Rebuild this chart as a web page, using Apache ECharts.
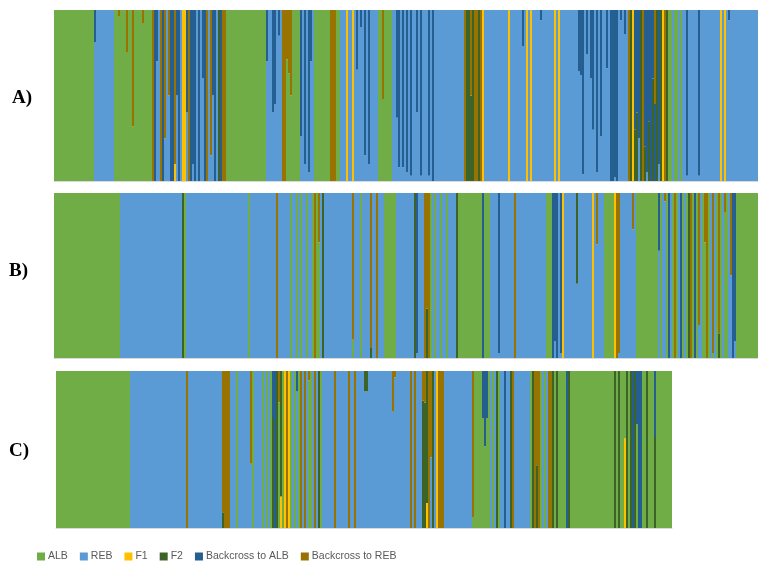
<!DOCTYPE html>
<html>
<head>
<meta charset="utf-8">
<script src="https://cdn.jsdelivr.net/npm/echarts@6/dist/echarts.min.js"></script>
<style>
  html, body { margin: 0; padding: 0; background: #ffffff; }
  #chart { width: 758px; height: 569px; }
</style>
</head>
<body>
<div id="chart"></div>
<script>
// Ancestry classes, in legend order
const classKeys   = ['A', 'R', 'F1', 'F2', 'BA', 'BR'];
const classNames  = ['ALB', 'REB', 'F1', 'F2', 'Backcross to ALB', 'Backcross to REB'];
const classColors = ['#70AD47', '#5B9BD5', '#FFC000', '#3D6428', '#255E91', '#997300'];

// Stacking order of the segments inside one bar (bottom first)
const stackOrder = ['F1', 'A', 'R', 'F2', 'BA', 'BR'];

const panelLabels = ['A)', 'B)', 'C)'];

// Individuals per panel as runs: [count, main class, second class, share of second class]
const panelA = [
  [20,'A'],[1,'R','BA',0.19],[9,'R'],
  [2,'A'],[1,'A','BR',0.04],[3,'A'],[1,'A','BR',0.25],[2,'A'],[1,'A','BR',0.68],[4,'A'],[1,'A','BR',0.08],[4,'A'],
  [1,'BR'],[1,'BA'],[1,'R','BA',0.3],[1,'R'],[1,'BR'],[1,'BA'],[1,'R','BR',0.75],[1,'R'],[1,'R','BR',0.5],[2,'BA'],
  [1,'F1','BR',0.9],[1,'R','BA',0.5],[1,'BA'],[1,'R'],[2,'F1'],[1,'R','BA',0.6],[1,'BR'],[1,'BA'],[1,'R','BA',0.9],
  [1,'BA'],[1,'R'],[1,'BA'],[1,'R'],[1,'R','BA',0.4],[1,'BA'],[1,'BR'],[1,'R'],[1,'R','BR',0.85],[1,'R','BA',0.5],
  [1,'BA'],[1,'R'],[1,'F2'],[1,'BA'],[2,'BR'],
  [20,'A'],
  [1,'R','BA',0.3],[2,'R'],[1,'R','BA',0.6],[1,'R','BA',0.55],[1,'R'],[1,'R','BA',0.15],[1,'R'],
  [2,'BR'],
  [1,'A','BR',0.29],[1,'A','BR',0.37],[1,'A','BR',0.5],[4,'A'],
  [1,'R','BA',0.74],[1,'R'],[1,'R','BA',0.9],[1,'R'],[1,'R','BA',0.95],[1,'R','BA',0.3],[1,'R'],
  [8,'A'],[3,'BR'],[2,'A'],[3,'R'],[1,'F1'],[2,'R'],[1,'F1'],
  [1,'R'],[1,'R','BA',0.35],[1,'R'],[1,'R','BA',0.1],[1,'R'],[1,'R','BA',0.85],[1,'R'],[1,'R','BA',0.9],[4,'R'],
  [2,'A'],[1,'A','BR',0.52],[4,'A'],
  [2,'R'],[1,'R','BA',0.63],[1,'R','BA',0.92],[1,'R'],[1,'R','BA',0.92],[1,'R'],[1,'R','BA',0.95],[1,'R'],
  [1,'R','BA',0.97],[2,'R'],[1,'R','BA',0.6],[1,'R'],[1,'R','BA',0.97],[3,'R'],[1,'R','BA',0.97],[1,'R'],[1,'BA'],[15,'R'],
  [1,'BR'],[2,'F2'],[1,'F2','BR',0.5],[1,'F2'],[2,'BR'],[1,'F2'],[1,'BR'],[1,'F1'],
  [12,'R'],[1,'F1'],[6,'R'],[1,'R','BA',0.21],[1,'R'],[1,'F1'],[1,'R'],[1,'F1'],[4,'R'],[1,'R','BA',0.06],[6,'R'],
  [1,'F1'],[1,'R'],[1,'F1'],[9,'R'],
  [1,'R','BA',0.36],[1,'R','BA',0.38],[1,'R','BA',0.96],[1,'R'],[1,'R','BA',0.26],[1,'R'],[1,'R','BA',0.4],
  [1,'R','BA',0.7],[1,'R'],[1,'R','BA',0.95],[1,'R'],[1,'R','BA',0.74],[2,'R'],[1,'R','BA',0.34],[1,'R'],[2,'BA'],
  [1,'R','BA',0.98],[1,'BA'],[1,'R'],[1,'R','BA',0.06],[1,'R'],[1,'R','BA',0.14],[1,'R'],
  [1,'BR'],[1,'F2'],[1,'F1'],[1,'F2','BA',0.7],[1,'F2','BA',0.6],[1,'R','BA',0.75],[1,'F2'],[1,'BR'],[1,'F2','BA',0.8],
  [1,'R','BA',0.95],[1,'F2','BA',0.65],[1,'BA'],[1,'F2','BA',0.4],[1,'BR','BA',0.45],[1,'F2'],[1,'R','BA',0.9],
  [1,'F2'],[1,'F1'],[1,'BR'],[1,'F2'],
  [2,'A'],[1,'R'],[2,'A'],[1,'R'],[1,'A'],[1,'R'],
  [1,'R'],[1,'R','BA',0.97],[5,'R'],[1,'R','BA',0.97],[10,'R'],[1,'F1'],[1,'R'],[1,'F1'],[1,'R'],[1,'R','BA',0.06],[14,'R']
];

const panelB = [
  [33,'A'],[31,'R'],[1,'F2'],[1,'A'],[31,'R'],[1,'A'],[13,'R'],[1,'BR'],[6,'R'],[1,'A'],[2,'R'],[1,'A'],[1,'R'],
  [1,'A'],[2,'R'],[1,'A'],[2,'R'],[1,'A'],[1,'BR'],[1,'A'],[1,'A','BR',0.3],[1,'R'],[1,'F2'],[14,'R'],
  [1,'A','BR',0.89],[3,'R'],[1,'A'],[4,'R'],[1,'F2','BR',0.94],[2,'R'],[1,'BR'],
  [3,'R'],[6,'A'],[9,'R'],[1,'F2'],[1,'R','BA',0.97],[3,'R'],[1,'BR'],[1,'BR','F2',0.3],[1,'BR'],[1,'A'],[1,'R'],
  [1,'A'],[2,'R'],[1,'A'],[2,'R'],[1,'A'],[4,'R'],[1,'F2'],[12,'A'],[1,'BA'],[3,'A'],[4,'R'],[1,'R','BA',0.97],
  [7,'R'],[1,'BR'],[15,'R'],[3,'A'],[1,'BA'],[1,'R','BA',0.9],[1,'BA'],[1,'R'],[1,'R','BA',0.97],[1,'F1'],[6,'R'],
  [1,'R','F2',0.55],[7,'R'],[1,'F1'],[1,'R'],[1,'R','BR',0.31],[3,'R'],[5,'A'],[1,'F1'],[1,'BR'],[1,'R','BR',0.97],
  [6,'R'],[1,'R','BR',0.22],[1,'R'],[11,'A'],[1,'R','BA',0.35],[1,'A'],[1,'R'],[1,'R','BR',0.05],
  [1,'A'],[1,'BA'],[1,'R'],[1,'A'],[1,'BR'],[1,'A'],[1,'R'],[1,'BA'],[1,'A'],[1,'R'],[1,'A'],[1,'F2'],
  [1,'BR'],[1,'A'],[1,'BA'],[1,'A'],[1,'R','BR',0.8],[1,'R'],[1,'A'],[1,'A','BR',0.3],[1,'BR'],[1,'A'],[1,'R'],
  [1,'A','BR',0.97],[1,'R'],[1,'A'],[1,'F2','BR',0.85],[1,'A'],[1,'R'],[1,'A','BR',0.12],[1,'A'],[1,'R'],
  [1,'R','BR',0.5],[1,'BA'],[1,'R','BA',0.9],[11,'A']
];

const panelC = [
  [37,'A'],[28,'R'],[1,'BR'],[17,'R'],[1,'F2','BR',0.9],[3,'BR'],[3,'R'],[1,'A'],[6,'R'],[1,'R','BR',0.59],
  [1,'A'],[4,'R'],[1,'A'],[1,'R'],[1,'A'],[1,'R'],[1,'A'],[1,'F2','BA',0.3],[1,'BA'],[1,'F2'],[1,'A','BR',0.2],
  [1,'F1','F2',0.8],[1,'A'],[1,'F1'],[1,'BR'],[1,'F1'],[1,'A'],[1,'R'],[1,'A'],[1,'R','BA',0.13],[1,'A'],[1,'BR'],
  [1,'R'],[1,'BR'],[1,'R'],[1,'A','BR',0.06],[1,'A'],[1,'R'],[1,'BR'],[1,'R'],[1,'F2'],[1,'A'],[6,'R'],[1,'BR'],
  [6,'R'],[1,'BR'],[2,'R'],[1,'BR'],[4,'R'],[1,'R','F2',0.13],[1,'R','F2',0.13],[6,'R'],
  [6,'R'],[1,'R','BR',0.26],[1,'R','BR',0.04],[7,'R'],[1,'BR'],[1,'R'],[1,'BR'],[3,'R'],[1,'F2','BR',0.19],
  [1,'F2','BR',0.2],[1,'F1','F2',0.84],[1,'BR'],[1,'R','BR',0.55],[1,'F2'],[1,'R'],[1,'F1'],[3,'BR'],[14,'R'],
  [1,'A','BR',0.93],[4,'A'],[1,'A','BA',0.3],[1,'A','BA',0.48],[1,'A','BA',0.3],[1,'A'],[1,'R'],[1,'A'],[1,'R'],
  [1,'F2'],[1,'A'],[2,'R'],[1,'BA'],[2,'R'],[1,'F2'],[1,'BR'],[8,'R'],[1,'A'],[1,'F2'],[1,'BR'],[1,'F2','BR',0.6],
  [1,'BR'],[1,'A'],[1,'R'],[1,'A'],[1,'R'],[2,'BR'],[1,'F2'],[1,'A'],[1,'F2'],[4,'A'],[1,'BA'],[1,'F2'],[22,'A'],
  [1,'F2'],[1,'A'],[1,'F2'],[2,'A'],[1,'F1','A',0.43],[1,'F2'],[1,'A'],[1,'F2'],[1,'BA'],[1,'F2'],[1,'A','BA',0.34],
  [2,'BA'],[2,'A'],[1,'F2'],[3,'A'],[1,'F2','BA',0.42],[8,'A']
];

const panels = [panelA, panelB, panelC];

// Plot boxes (pixels) for the three panels; widths are whole multiples of the bar count
const boxes = [
  { left: 54, top: 10,  width: 704, height: 171 },
  { left: 54, top: 193, width: 704, height: 165 },
  { left: 56, top: 371, width: 616, height: 157 }
];
const labelY = [99, 272, 452];

// Expand runs into one membership vector per class
function expand(runs) {
  const out = {};
  classKeys.forEach(k => { out[k] = []; });
  runs.forEach(run => {
    const [n, main, second, share] = run;
    for (let i = 0; i < n; i++) {
      classKeys.forEach(k => {
        let v = 0;
        if (k === main) v += second ? 1 - share : 1;
        if (second && k === second) v += share;
        out[k].push(v);
      });
    }
  });
  return out;
}

const grids = [], xAxes = [], yAxes = [], series = [];
panels.forEach((runs, p) => {
  const q = expand(runs);
  const count = q.A.length;
  grids.push(Object.assign({ containLabel: false }, boxes[p]));
  xAxes.push({
    type: 'category', gridIndex: p,
    data: Array.from({ length: count }, (_, i) => i + 1),
    axisLabel: { show: false }, axisTick: { show: false },
    axisLine: { show: true, lineStyle: { color: '#d9d9d9', width: 1 } }
  });
  yAxes.push({ type: 'value', gridIndex: p, min: 0, max: 1, show: false });
  stackOrder.forEach(k => {
    const ci = classKeys.indexOf(k);
    series.push({
      name: classNames[ci],
      type: 'bar',
      xAxisIndex: p, yAxisIndex: p,
      stack: 'panel' + p,
      barCategoryGap: '0%',
      itemStyle: { color: classColors[ci], borderWidth: 0 },
      emphasis: { disabled: true },
      silent: true,
      data: q[k]
    });
  });
});

const chart = echarts.init(document.getElementById('chart'), null, { renderer: 'canvas' });
chart.setOption({
  animation: false,
  backgroundColor: '#ffffff',
  grid: grids,
  xAxis: xAxes,
  yAxis: yAxes,
  legend: {
    data: classNames,
    left: 32, top: 546,
    icon: 'rect', itemWidth: 8, itemHeight: 8, itemGap: 12,
    selectedMode: false,
    textStyle: { color: '#595959', fontSize: 10.5, fontFamily: '"Liberation Sans", sans-serif', padding: [0, 0, 0, -2] }
  },
  graphic: panelLabels.map((t, i) => ({
    type: 'text', left: i === 0 ? 12 : 9, top: labelY[i] - 10,
    style: { text: t, font: 'bold 19px "Liberation Serif", serif', fill: '#000000' }
  })),
  series: series
});
</script>
</body>
</html>
